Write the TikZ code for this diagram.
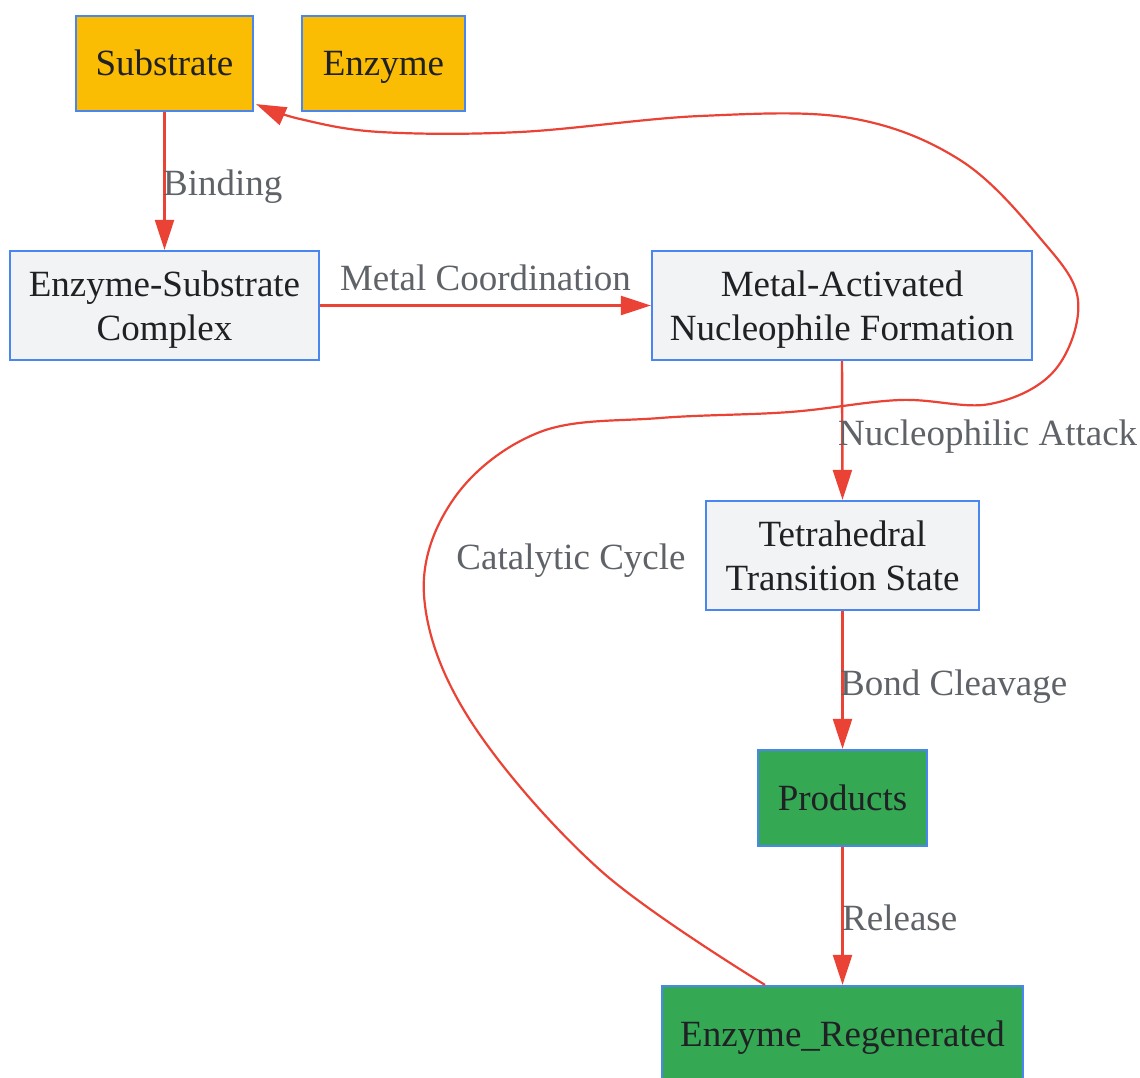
\documentclass[tikz,border=0pt]{standalone}
\usepackage{fontspec}
\setmainfont{Liberation Serif}
\usetikzlibrary{arrows.meta,calc}
\definecolor{bordc}{HTML}{4A86F0}
\definecolor{orangec}{HTML}{FBBC04}
\definecolor{greenc}{HTML}{34A853}
\definecolor{grayc}{HTML}{F1F3F4}
\definecolor{txtc}{HTML}{202124}
\definecolor{lblc}{HTML}{5F6368}
\definecolor{edgec}{HTML}{EA4335}
\begin{document}
\begin{tikzpicture}[x=1pt,y=-1pt,
  box/.style={draw=bordc,line width=2.2pt,inner sep=0pt,align=center,text=txtc,
    font=\fontsize{37}{44}\selectfont,text depth=-4pt},
  onebox/.style={box,text height=25pt},
  orangebox/.style={onebox,fill=orangec},
  graybox/.style={box,fill=grayc},
  greenbox/.style={onebox,fill=greenc},
  edge/.style={draw=edgec,line width=2.4pt,-{Triangle[length=30pt,width=19pt]}},
  cyc/.style={draw=edgec,line width=2.2pt,-{Triangle[length=30pt,width=19pt]}},
  lbl/.style={text=lblc,inner sep=0pt,font=\fontsize{37}{44}\selectfont,text height=25pt,text depth=0pt}]
\useasboundingbox (0,0) rectangle (1140,1078);
\node[orangebox,minimum width=177pt,minimum height=95pt] (sub) at (164.5,63.5) {Substrate};
\node[orangebox,minimum width=163pt,minimum height=95pt] (enz) at (383.5,63.5) {Enzyme};
\node[graybox,minimum width=309pt,minimum height=109pt] (es) at (164.5,305.5) {Enzyme-Substrate\\Complex};
\node[graybox,minimum width=380pt,minimum height=109pt] (man) at (842,305.5) {Metal-Activated\\Nucleophile Formation};
\node[graybox,minimum width=273pt,minimum height=109pt] (tts) at (842.5,555.5) {Tetrahedral\\Transition State};
\node[greenbox,minimum width=169pt,minimum height=96pt] (prod) at (842.5,798) {Products};
\node[greenbox,minimum width=361pt,minimum height=96pt] (er) at (842.5,1034) {Enzyme\_Regenerated};

\draw[edge] (sub) -- (es);
\draw[edge] (es) -- (man);
\draw[edge] (man.south) -- (tts.north);
\draw[edge] (tts.south) -- (prod.north);
\draw[edge] (prod.south) -- (er.north);

\coordinate (cstart) at ($(er.north)+(-77.5,0)$);
\coordinate (cend) at ($(sub.south east)+(2,-8)$);
\draw[cyc] plot[smooth,tension=0.6] coordinates {(cstart) (600,870) (470,720) (424,595) (455,497) (540,432) (660,418) (790,412) (900,400) (990,404) (1055,370) (1078,300) (1040,238) (960,160) (850,118) (700,116) (520,132) (380,132) (300,119) (cend)};

\node[lbl,anchor=west] (l1) at (163,183) {Binding};
\node[lbl] (l2) at (485.5,278) {Metal Coordination};
\node[lbl,anchor=west] (l3) at (838,433) {Nucleophilic Attack};
\node[lbl,anchor=west] (l4) at (840,683) {Bond Cleavage};
\node[lbl,anchor=west] (l5) at (842,918) {Release};
\node[lbl] (l6) at (571,557) {Catalytic Cycle};
\end{tikzpicture}
\end{document}
